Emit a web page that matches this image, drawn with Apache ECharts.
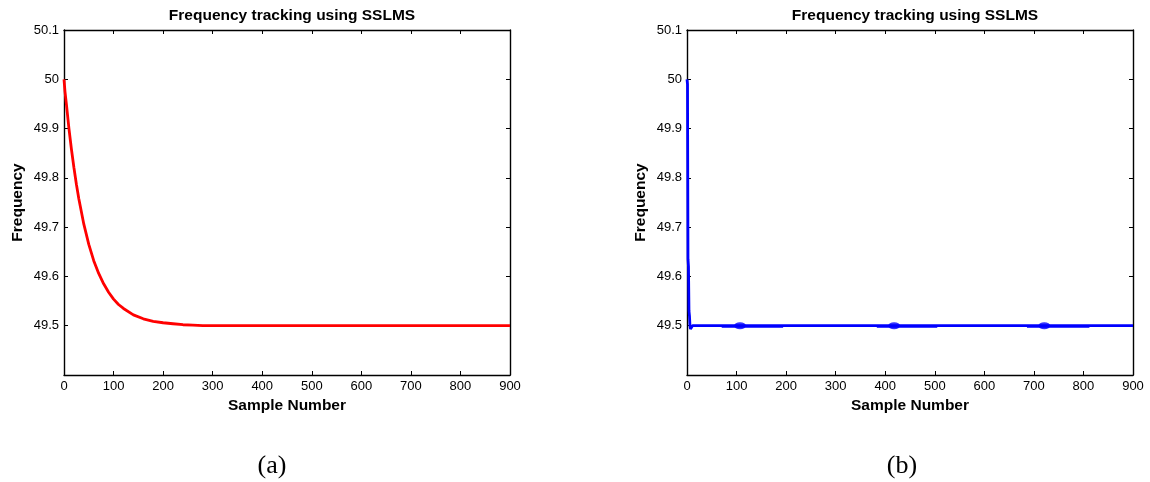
<!DOCTYPE html>
<html>
<head>
<meta charset="utf-8">
<script src="https://cdn.jsdelivr.net/npm/echarts@6/dist/echarts.min.js"></script>
<style>
html,body{margin:0;padding:0;background:#fff;}
#c{width:1150px;height:482px;}
</style>
</head>
<body>
<div id="c"></div>
<script>
// ---- data ----
const titleText = 'Frequency tracking using SSLMS';
const xName = 'Sample Number';
const yName = 'Frequency';
const captions = ['(a)', '(b)'];
const xTicks = [0, 100, 200, 300, 400, 500, 600, 700, 800, 900];
const yTicks = [49.4, 49.5, 49.6, 49.7, 49.8, 49.9, 50, 50.1];

// (a) red curve
const sampleA = [0, 2, 5, 10, 15, 20, 25, 30, 40, 50, 60, 70, 80, 90, 100, 110, 120, 140, 160, 180, 200, 220, 240, 260, 280, 300, 400, 500, 600, 700, 800, 900];
const freqA   = [50.0, 49.975, 49.948, 49.900, 49.858, 49.821, 49.787, 49.757, 49.706, 49.665, 49.632, 49.606, 49.585, 49.568, 49.554, 49.543, 49.535, 49.522, 49.514, 49.509, 49.506, 49.504, 49.502, 49.501, 49.500, 49.500, 49.500, 49.500, 49.500, 49.500, 49.500, 49.500];

// (b) blue curve
const sampleB = [0, 1, 2, 3, 4, 5, 6, 7, 9, 11, 20, 100, 200, 300, 400, 500, 600, 700, 800, 900];
const freqB   = [50.0, 49.99, 49.635, 49.62, 49.53, 49.52, 49.50, 49.493, 49.494, 49.500, 49.500, 49.500, 49.500, 49.500, 49.500, 49.500, 49.500, 49.500, 49.500, 49.500];
// (b) slightly thickened stretches (small ripple just under 49.5)
const rippleStart = [70, 383, 686];
const rippleEnd   = [194, 505, 812];
const rippleValue = 49.4985;
// (b) blobs
const blobX = [107, 418, 721];
const blobY = [49.5, 49.5, 49.5];

const chart = echarts.init(document.getElementById('c'), null, {renderer: 'canvas'});
const FONT = 'Liberation Sans, Arial, sans-serif';
const grids = [
  {left: 64, top: 30, width: 446, height: 345},
  {left: 687, top: 30, width: 446, height: 345}
];
const lineStyleAxis = {color: '#000', width: 1.4};
const nameStyle = {fontFamily: FONT, fontWeight: 'bold', fontSize: 15.5, color: '#000'};

function xAxes(gi) {
  return [
    {
      type: 'value', gridIndex: gi, min: 0, max: 900, interval: 100, position: 'bottom',
      name: xName, nameLocation: 'middle', nameGap: 20, nameTextStyle: nameStyle,
      axisLine: {show: true, onZero: false, lineStyle: lineStyleAxis},
      axisTick: {show: true, inside: true, length: 4, lineStyle: {color: '#000'}},
      axisLabel: {fontFamily: FONT, fontSize: 13, color: '#000', margin: 5},
      splitLine: {show: false}
    },
    {
      type: 'value', gridIndex: gi, min: 0, max: 900, interval: 100, position: 'top',
      axisLine: {show: true, onZero: false, lineStyle: lineStyleAxis},
      axisTick: {show: true, inside: true, length: 4, lineStyle: {color: '#000'}},
      axisLabel: {show: false}, splitLine: {show: false}
    }
  ];
}
function yAxes(gi) {
  return [
    {
      type: 'value', gridIndex: gi, min: 49.4, max: 50.1, interval: 0.1, position: 'left',
      name: yName, nameLocation: 'middle', nameGap: 38, nameTextStyle: nameStyle,
      axisLine: {show: true, onZero: false, lineStyle: lineStyleAxis},
      axisTick: {show: true, inside: true, length: 4, lineStyle: {color: '#000'}},
      axisLabel: {
        fontFamily: FONT, fontSize: 13, color: '#000', margin: 5,
        formatter: function (v) {
          if (Math.abs(v - yTicks[0]) < 1e-6) return '';
          const s = (Math.round(v * 10) / 10).toFixed(1);
          return s.endsWith('.0') ? s.slice(0, -2) : s;
        }
      },
      splitLine: {show: false}
    },
    {
      type: 'value', gridIndex: gi, min: 49.4, max: 50.1, interval: 0.1, position: 'right',
      axisLine: {show: true, onZero: false, lineStyle: lineStyleAxis},
      axisTick: {show: true, inside: true, length: 4, lineStyle: {color: '#000'}},
      axisLabel: {show: false}, splitLine: {show: false}
    }
  ];
}

const rippleData = [];
rippleStart.forEach((s, i) => {
  rippleData.push([s, rippleValue], [rippleEnd[i], rippleValue], [rippleEnd[i], '-']);
});

const option = {
  backgroundColor: '#fff',
  animation: false,
  title: [
    {text: titleText, left: 287, top: 3, textAlign: 'center', textStyle: nameStyle},
    {text: titleText, left: 910, top: 3, textAlign: 'center', textStyle: nameStyle}
  ],
  grid: grids,
  xAxis: xAxes(0).concat(xAxes(1)),
  yAxis: yAxes(0).concat(yAxes(1)),
  series: [
    {
      type: 'line', xAxisIndex: 0, yAxisIndex: 0, showSymbol: false, symbol: 'none',
      data: sampleA.map((s, i) => [s, freqA[i]]),
      lineStyle: {color: '#ff0000', width: 2.8}
    },
    {
      type: 'line', xAxisIndex: 2, yAxisIndex: 2, showSymbol: false, symbol: 'none',
      data: rippleData, connectNulls: false,
      lineStyle: {color: '#0000ff', width: 2.5}
    },
    {
      type: 'line', xAxisIndex: 2, yAxisIndex: 2, showSymbol: false, symbol: 'none',
      data: sampleB.map((s, i) => [s, freqB[i]]),
      lineStyle: {color: '#0000ff', width: 2.8}
    },
    {
      type: 'scatter', xAxisIndex: 2, yAxisIndex: 2, symbol: 'circle', symbolSize: [12, 7],
      data: blobX.map((s, i) => [s, blobY[i]]),
      itemStyle: {color: '#0000ff'}
    }
  ],
  graphic: [
    {type: 'text', x: 272, y: 479, style: {text: captions[0], font: '26px "Liberation Serif", "Times New Roman", serif', fill: '#000', textAlign: 'center', textVerticalAlign: 'bottom'}},
    {type: 'text', x: 902, y: 479, style: {text: captions[1], font: '26px "Liberation Serif", "Times New Roman", serif', fill: '#000', textAlign: 'center', textVerticalAlign: 'bottom'}}
  ]
};
chart.setOption(option);
</script>
</body>
</html>
